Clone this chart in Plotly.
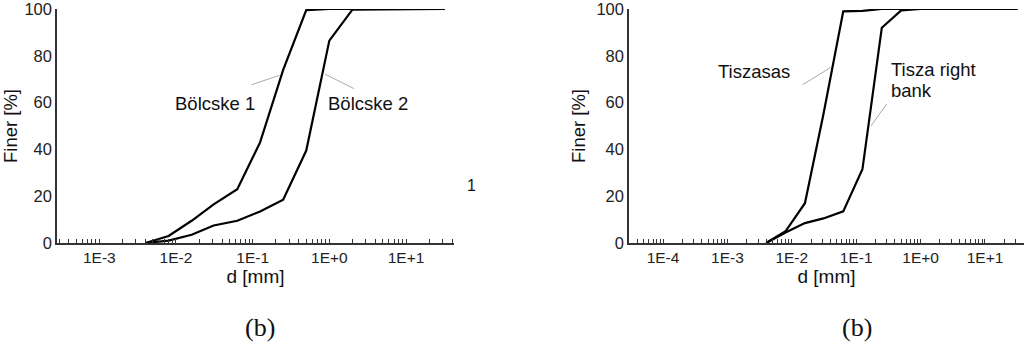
import plotly.graph_objects as go

# ---------------- data ----------------
d_left = [0.004, 0.008, 0.016, 0.031, 0.063, 0.125, 0.25, 0.5, 1.0, 2.0, 32.0]
bolcske1 = [0, 3, 9.5, 16.5, 23, 43, 74, 99.5, 100, 100, 100]
bolcske2 = [0, 1, 3.5, 7.5, 9.5, 13.5, 18.5, 39.5, 86.5, 99.7, 100]

d_right = [0.004, 0.008, 0.016, 0.031, 0.063, 0.125, 0.25, 0.5, 1.0, 2.0, 32.0]
tiszasas = [0, 5, 17, 55, 99, 99.2, 100, 100, 100, 100, 100]
tisza_rb = [0, 4.5, 8.5, 10.5, 13.5, 31.5, 92, 99.4, 100, 100, 100]

y_ticks = [0, 20, 40, 60, 80, 100]
decades_left = [-4, -3, -2, -1, 0, 1]
decades_right = [-5, -4, -3, -2, -1, 0, 1]


def log_ticks(decades):
    vals, texts = [], []
    for k in decades:
        for m in range(1, 10):
            vals.append(m * 10.0 ** k)
            if m == 1:
                texts.append("1E%+d" % k if k >= 0 else "1E%d" % k)
            else:
                texts.append("")
    return vals, texts


W, H = 1024, 344
TOP, BOT = 7, 243  # plot area pixel rows
FONT = "Liberation Sans, Arial, sans-serif"


def px(x):
    return x / W


def py(y):
    return (BOT - y) / (BOT - TOP)


fig = go.Figure()
line_style = dict(color="black", width=2.2)
fig.add_trace(go.Scatter(x=d_left, y=bolcske1, mode="lines", line=line_style,
                         xaxis="x", yaxis="y", showlegend=False))
fig.add_trace(go.Scatter(x=d_left, y=bolcske2, mode="lines", line=line_style,
                         xaxis="x", yaxis="y", showlegend=False))
fig.add_trace(go.Scatter(x=d_right, y=tiszasas, mode="lines", line=line_style,
                         xaxis="x2", yaxis="y2", showlegend=False))
fig.add_trace(go.Scatter(x=d_right, y=tisza_rb, mode="lines", line=line_style,
                         xaxis="x2", yaxis="y2", showlegend=False))

lt_vals, lt_text = log_ticks(decades_left)
rt_vals, rt_text = log_ticks(decades_right)

xcommon = dict(type="log", showgrid=False, zeroline=False, showline=True,
               linecolor="#333", linewidth=1.5, ticks="inside", ticklen=4,
               tickcolor="#333", tickwidth=1, ticklabeloverflow="allow",
               tickfont=dict(family=FONT, size=15.5, color="#222"),
               title=dict(text="d [mm]", font=dict(family=FONT, size=19, color="#111"),
                          standoff=4))
ycommon = dict(range=[0, 100], showgrid=False, zeroline=False, showline=True,
               linecolor="#333", linewidth=1.5, ticks="", tickvals=y_ticks,
               ticklabeloverflow="allow",
               tickfont=dict(family=FONT, size=16.5, color="#222"),
               title=dict(text="Finer [%]", font=dict(family=FONT, size=18.5, color="#111"),
                          standoff=6))

fig.update_layout(
    width=W, height=H,
    margin=dict(l=0, r=0, t=TOP, b=H - BOT),
    paper_bgcolor="white", plot_bgcolor="white",
    xaxis=dict(xcommon, domain=[px(57), px(454)], range=[-3.552, 1.626],
               tickvals=lt_vals, ticktext=lt_text, anchor="y"),
    yaxis=dict(ycommon, domain=[0, 1], anchor="x"),
    xaxis2=dict(xcommon, domain=[px(629), 1.0], range=[-4.528, 1.606],
                tickvals=rt_vals, ticktext=rt_text, anchor="y2"),
    yaxis2=dict(ycommon, domain=[0, 1], anchor="x2"),
)

afont = dict(family=FONT, size=18.5, color="#111")
annots = [
    dict(text="Bölcske 1", x=px(215), y=py(102), xanchor="center", yanchor="middle", font=afont),
    dict(text="Bölcske 2", x=px(368), y=py(102), xanchor="center", yanchor="middle", font=afont),
    dict(text="1", x=px(471.5), y=py(185), xanchor="center", yanchor="middle",
         font=dict(family=FONT, size=16, color="#111")),
    dict(text="Tiszasas", x=px(754), y=py(70), xanchor="center", yanchor="middle", font=afont),
    dict(text="Tisza right", x=px(889), y=py(67.7), xanchor="left", yanchor="middle", font=afont),
    dict(text="bank", x=px(889), y=py(89.3), xanchor="left", yanchor="middle", font=afont),
    dict(text="(b)", x=px(260), y=py(328), xanchor="center", yanchor="middle",
         font=dict(family="Liberation Serif, Times New Roman, serif", size=26, color="#111")),
    dict(text="(b)", x=px(857), y=py(328), xanchor="center", yanchor="middle",
         font=dict(family="Liberation Serif, Times New Roman, serif", size=26, color="#111")),
]
for a in annots:
    fig.add_annotation(xref="paper", yref="paper", showarrow=False, **a)

leaders = [
    ((251.7, 83.3), (279.3, 74.0)),
    ((325.0, 72.7), (354.0, 87.3)),
    ((802.7, 83.3), (830.7, 66.0)),
    ((886.7, 102.7), (871.0, 125.0)),
]
for (x0, y0), (x1, y1) in leaders:
    fig.add_shape(type="line", xref="paper", yref="paper",
                  x0=px(x0), y0=py(y0), x1=px(x1), y1=py(y1),
                  line=dict(color="#aaa", width=1))

fig.write_html("out.html", config={"displayModeBar": False},
               post_script="document.body.style.margin='0';document.body.style.overflow='hidden';")
